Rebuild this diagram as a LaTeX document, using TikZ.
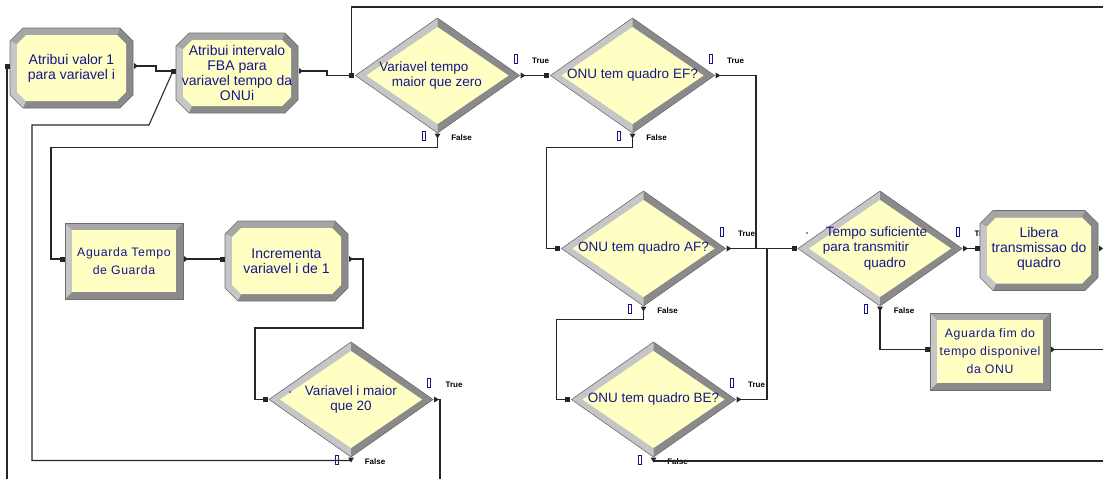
\documentclass[tikz,border=0pt]{standalone}
\usepackage{fontspec}
\setmainfont{Liberation Sans}
\newfontfamily\holdfont[LetterSpace=5]{Liberation Sans}
\usepackage{tikz}
\usetikzlibrary{arrows.meta,calc,positioning}
\definecolor{ModFill}{HTML}{FFFFC4}
\definecolor{BevLight}{HTML}{C6C6C6}
\definecolor{BevMid}{HTML}{A6A6A6}
\definecolor{BevDark}{HTML}{8A8A8A}
\definecolor{BevLine}{HTML}{6E6E6E}
\definecolor{ModBlue}{HTML}{16168C}
\definecolor{LinkGray}{HTML}{262626}

% Assign module: bevelled octagon  [opts]{name}{cx}{cy}{w}{h}{text}
\newcommand{\assignmod}[7][]{%
  \begin{scope}[shift={(#3,#4)}]
    \pgfmathsetmacro\mhw{#5/2}\pgfmathsetmacro\mhh{#6/2}
    \pgfmathsetmacro\miw{\mhw-7}\pgfmathsetmacro\mih{\mhh-7}
    \fill[BevDark] (-\mhw+13,-\mhh) -- (\mhw-13,-\mhh) -- (\mhw,-\mhh+13) -- (\mhw,\mhh-13)
      -- (\mhw-13,\mhh) -- (-\mhw+13,\mhh) -- (-\mhw,\mhh-13) -- (-\mhw,-\mhh+13) -- cycle;
    \fill[BevMid] (-\mhw,-\mhh+13) -- (-\mhw+13,-\mhh) -- (\mhw-13,-\mhh) -- (\miw-9,-\mih)
      -- (-\miw+9,-\mih) -- (-\miw,-\mih+9) -- cycle;
    \fill[BevLight] (-\mhw,-\mhh+13) -- (-\mhw,\mhh-13) -- (-\mhw+13,\mhh) -- (-\miw+9,\mih)
      -- (-\miw,\mih-9) -- (-\miw,-\mih+9) -- cycle;
    \fill[ModFill] (-\miw+9,-\mih) -- (\miw-9,-\mih) -- (\miw,-\mih+9) -- (\miw,\mih-9)
      -- (\miw-9,\mih) -- (-\miw+9,\mih) -- (-\miw,\mih-9) -- (-\miw,-\mih+9) -- cycle;
    \draw[BevLine, line width=0.6] (-\mhw+13,-\mhh) -- (\mhw-13,-\mhh) -- (\mhw,-\mhh+13) -- (\mhw,\mhh-13)
      -- (\mhw-13,\mhh) -- (-\mhw+13,\mhh) -- (-\mhw,\mhh-13) -- (-\mhw,-\mhh+13) -- cycle;
    \node[modtext, #1] (#2) at (0,0) {#7};
    \coordinate (#2-in) at (-\mhw-3,-2);
    \coordinate (#2-out) at (\mhw+3,-2);
    \fill[LinkGray] (-\mhw-5.5,-4.5) rectangle ++(5,5);
    \fill[LinkGray] (\mhw+1,-5) -- (\mhw+5,-2) -- (\mhw+1,1) -- cycle;
  \end{scope}}

% Hold module: bevelled rectangle  [opts]{name}{cx}{cy}{w}{h}{text}
\newcommand{\holdmod}[7][]{%
  \begin{scope}[shift={(#3,#4)}]
    \pgfmathsetmacro\mhw{#5/2}\pgfmathsetmacro\mhh{#6/2}
    \pgfmathsetmacro\miw{\mhw-7}\pgfmathsetmacro\mih{\mhh-7}
    \fill[BevDark] (-\mhw,-\mhh) rectangle (\mhw,\mhh);
    \fill[BevMid] (-\mhw,-\mhh) -- (\mhw,-\mhh) -- (\miw,-\mih) -- (-\miw,-\mih) -- cycle;
    \fill[BevLight] (-\mhw,-\mhh) -- (-\miw,-\mih) -- (-\miw,\mih) -- (-\mhw,\mhh) -- cycle;
    \fill[ModFill] (-\miw,-\mih) rectangle (\miw,\mih);
    \draw[BevLine, line width=0.6] (-\mhw,-\mhh) rectangle (\mhw,\mhh);
    \node[holdtext, #1] (#2) at (0,0) {#7};
    \coordinate (#2-in) at (-\mhw-3,-2);
    \coordinate (#2-out) at (\mhw+3,-2);
    \fill[LinkGray] (-\mhw-5.5,-4.5) rectangle ++(5,5);
    \fill[LinkGray] (\mhw+1,-5) -- (\mhw+5,-2) -- (\mhw+1,1) -- cycle;
  \end{scope}}

% Decide module: bevelled diamond with True/False exits  [opts]{name}{cx}{cy}{text}
\newcommand{\decidemod}[5][]{%
  \begin{scope}[shift={(#3,#4)}]
    \fill[BevLight] (-82,0) -- (0,-57.5) -- (82,0) -- (0,57.5) -- cycle;
    \fill[BevDark] (0,-57.5) -- (82,0) -- (0,57.5) -- (0,48.5) -- (71,0) -- (0,-48.5) -- cycle;
    \fill[ModFill] (-71,0) -- (0,-48.5) -- (71,0) -- (0,48.5) -- cycle;
    \draw[BevLine, line width=0.6] (-82,0) -- (0,-57.5) -- (82,0) -- (0,57.5) -- cycle;
    \node[decidetext, #1] (#2) at (0,0) {#5};
    \coordinate (#2-in) at (-86,0);
    \coordinate (#2-true) at (86,0);
    \coordinate (#2-false) at (0,61);
    \fill[LinkGray] (-88.5,-2.5) rectangle ++(5,5);
    \fill[LinkGray] (83,-3) -- (88,0) -- (83,3) -- cycle;
    \fill[LinkGray] (-3,58) -- (0,63) -- (3,58) -- cycle;
    % counters and branch labels
    \draw[counter] (76.5,-21.5) rectangle ++(3,9);
    \node[branch] at (103,-15) {True};
    \draw[counter] (-15.5,56) rectangle ++(3,9);
    \node[branch] at (24,62) {False};
  \end{scope}}

\begin{document}
\begin{tikzpicture}[x=1pt, y=-1pt,
    modtext/.style={text=ModBlue, align=center, inner sep=0pt, font=\fontsize{14}{15}\selectfont},
    decidetext/.style={text=ModBlue, align=center, inner sep=0pt, font=\fontsize{13.5}{15.5}\selectfont},
    holdtext/.style={text=ModBlue, align=center, inner sep=0pt, font=\holdfont\fontsize{12.3}{18}\selectfont},
    branch/.style={inner sep=0pt, font=\fontsize{8}{9}\selectfont\bfseries},
    counter/.style={draw=ModBlue, line width=0.9},
    link/.style={draw=LinkGray, line width=1.1}]
    \useasboundingbox (0,0) rectangle (1103,479);

    % Initialisation
    \assignmod{valor}{71.5}{68}{123}{80}{Atribui valor 1\\para variavel i}
    \assignmod{fba}{237}{73}{122}{80}{Atribui intervalo\\FBA para\\variavel tempo da\\ONUi}

    % Time check and frame class tests
    \decidemod[xshift=-7pt]{tempo}{437.5}{75.5}{Variavel tempo\hspace*{13pt}\\\hspace*{13pt}maior que zero}
    \decidemod{ef}{632.5}{75.5}{ONU tem quadro EF?}
    \decidemod{af}{643.5}{248.5}{ONU tem quadro AF?}
    \decidemod{be}{653.5}{399.5}{ONU tem quadro BE?}

    % Guard time and counter loop
    \holdmod{guarda}{124}{261}{118}{76}{Aguarda Tempo\\de Guarda}
    \assignmod{incr}{286.5}{261}{123}{80}{Incrementa\\variavel i de 1}
    \decidemod{imaior}{351}{399.5}{Variavel i maior\\que 20}
    \fill[ModBlue] (290,392) circle (0.8);

    % Transmission
    \decidemod[xshift=-5pt, align=left]{suf}{880}{248.5}{\hspace*{3pt}Tempo suficiente\\para transmitir\\\hspace*{41pt}quadro}
    \fill[ModBlue] (807,233) circle (0.8);
    \assignmod[yshift=2pt]{libera}{1039}{250.5}{118}{80}{Libera\\transmissao do\\quadro}
    \holdmod{fim}{990}{351.5}{120}{77}{Aguarda fim do\\tempo disponivel\\da ONU}

    % Links between modules
    \draw[link] (valor-out) -- ++(20,0) |- (fba-in);
    \draw[link] (valor-in) -- (valor-in |- 0,479);
    \draw[link] (fba-out) -- ++(26,0) |- (tempo-in);
    \draw[link] (1103,7) -| (tempo-in);
    \draw[link] (tempo-true) -- (ef-in);
    \draw[link] (tempo-false) -- ++(0,11) -| ([xshift=-11pt]guarda-in) -- (guarda-in);
    \draw[link] (guarda-out) -- (incr-in);
    \draw[link] (incr-out) -- ++(12,0) -- ++(0,69) -| ([xshift=-10pt]imaior-in) -- (imaior-in);
    \draw[link] (imaior-false) -| (32,125) -- (149,125) -- (fba-in);
    \draw[link] (imaior-true) -| (440,479);
    \draw[link] (ef-true) -| ([xshift=-38pt]suf-in) -- (suf-in);
    \draw[link] (ef-false) -- ++(0,11) -| ([xshift=-11pt]af-in) -- (af-in);
    \draw[link] (af-true) -- (suf-in);
    \draw[link] (af-false) -- ++(0,10) -| ([xshift=-11pt]be-in) -- (be-in);
    \draw[link] (be-true) -| ([xshift=-27pt]suf-in);
    \draw[link] (be-false) |- (1103,461);
    \draw[link] (suf-true) -- (libera-in);
    \draw[link] (suf-false) |- (fim-in);
    \draw[link] (fim-out) -- (fim-out -| 1103,0);

\end{tikzpicture}
\end{document}
